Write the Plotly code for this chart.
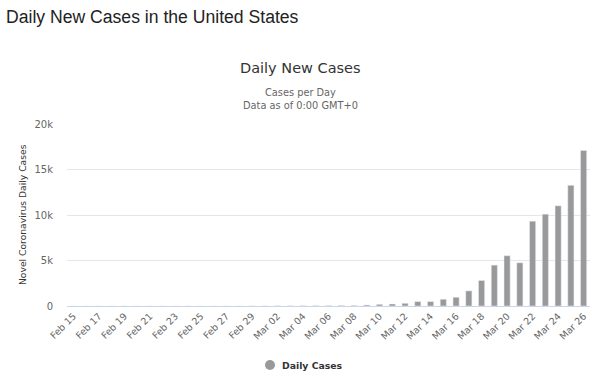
import plotly.graph_objects as go

dates = ["Feb 15", "Feb 16", "Feb 17", "Feb 18", "Feb 19", "Feb 20", "Feb 21", "Feb 22",
         "Feb 23", "Feb 24", "Feb 25", "Feb 26", "Feb 27", "Feb 28", "Feb 29",
         "Mar 01", "Mar 02", "Mar 03", "Mar 04", "Mar 05", "Mar 06", "Mar 07", "Mar 08",
         "Mar 09", "Mar 10", "Mar 11", "Mar 12", "Mar 13", "Mar 14", "Mar 15", "Mar 16",
         "Mar 17", "Mar 18", "Mar 19", "Mar 20", "Mar 21", "Mar 22", "Mar 23", "Mar 24",
         "Mar 25", "Mar 26"]
daily_cases = [0, 0, 0, 0, 0, 0, 2, 0,
               0, 0, 0, 0, 1, 3, 6,
               8, 22, 22, 31, 35, 40, 55, 60,
               110, 185, 220, 295, 480, 480, 740, 960,
               1660, 2800, 4490, 5525, 4750, 9320, 10090, 11010,
               13260, 17090]
tick_labels = dates[::2]
y_ticks = [0, 5000, 10000, 15000, 20000]
y_tick_text = ["0", "5k", "10k", "15k", "20k"]
series_name = "Daily Cases"

FONT = "DejaVu Sans"
BAR = "#999999"

fig = go.Figure()
fig.add_trace(go.Bar(x=dates, y=daily_cases, marker_color=BAR, showlegend=False,
                     name=series_name))

# legend drawn as a circle + label below the plot (Highcharts style)
PW, PH = 523.0, 182.0
cx, cy, r = (270 - 67) / PW, (306 - 365) / PH, 5.0
fig.add_shape(type="circle", xref="paper", yref="paper",
              x0=cx - r / PW, x1=cx + r / PW, y0=cy - r / PH, y1=cy + r / PH,
              fillcolor=BAR, line=dict(width=0))

fig.update_layout(
    width=600, height=378,
    margin=dict(l=67, r=10, t=124, b=72, autoexpand=False),
    paper_bgcolor="white", plot_bgcolor="white",
    bargap=0.52,
    showlegend=False,
    font=dict(family=FONT, color="#666666", size=10),
    xaxis=dict(type="category", categoryorder="array", categoryarray=dates,
               tickmode="array", tickvals=tick_labels, ticktext=tick_labels,
               tickangle=-45, tickfont=dict(size=9.5, color="#666666"),
               showgrid=False, showline=True, linecolor="#ccd6eb", linewidth=1,
               range=[-0.5, len(dates) - 0.5], fixedrange=True, automargin=False),
    yaxis=dict(range=[0, 20000], tickvals=y_ticks, ticktext=y_tick_text,
               gridcolor="#e6e6e6", zeroline=False, showline=False, automargin=False,
               tickfont=dict(size=10, color="#666666"), ticklabelstandoff=13),
    annotations=[
        dict(text="Daily New Cases in the United States", xref="paper", yref="paper",
             x=-0.12, y=1.59, xanchor="left", yanchor="middle", showarrow=False,
             font=dict(family="Liberation Sans", size=17.6, color="#222222")),
        dict(text="Daily New Cases", xref="paper", yref="paper",
             x=0.447, y=1.31, xanchor="center", yanchor="middle", showarrow=False,
             font=dict(family=FONT, size=14.5, color="#333333")),
        dict(text="Cases per Day<br>Data as of 0:00 GMT+0", xref="paper", yref="paper",
             x=0.447, y=1.14, xanchor="center", yanchor="middle", showarrow=False,
             font=dict(family=FONT, size=9.8, color="#666666")),
        dict(text="Novel Coronavirus Daily Cases", xref="paper", yref="paper",
             x=-0.086, y=0.5, xanchor="center", yanchor="middle", textangle=-90,
             showarrow=False, font=dict(family=FONT, size=9.2, color="#333333")),
        dict(text="<b>" + series_name + "</b>", xref="paper", yref="paper",
             x=(280 - 67) / PW, y=cy, xanchor="left", yanchor="middle",
             showarrow=False, font=dict(family=FONT, size=9.3, color="#333333")),
    ],
)

fig.write_html("out.html", config={"displayModeBar": False},
               post_script="document.body.style.margin='0';")
